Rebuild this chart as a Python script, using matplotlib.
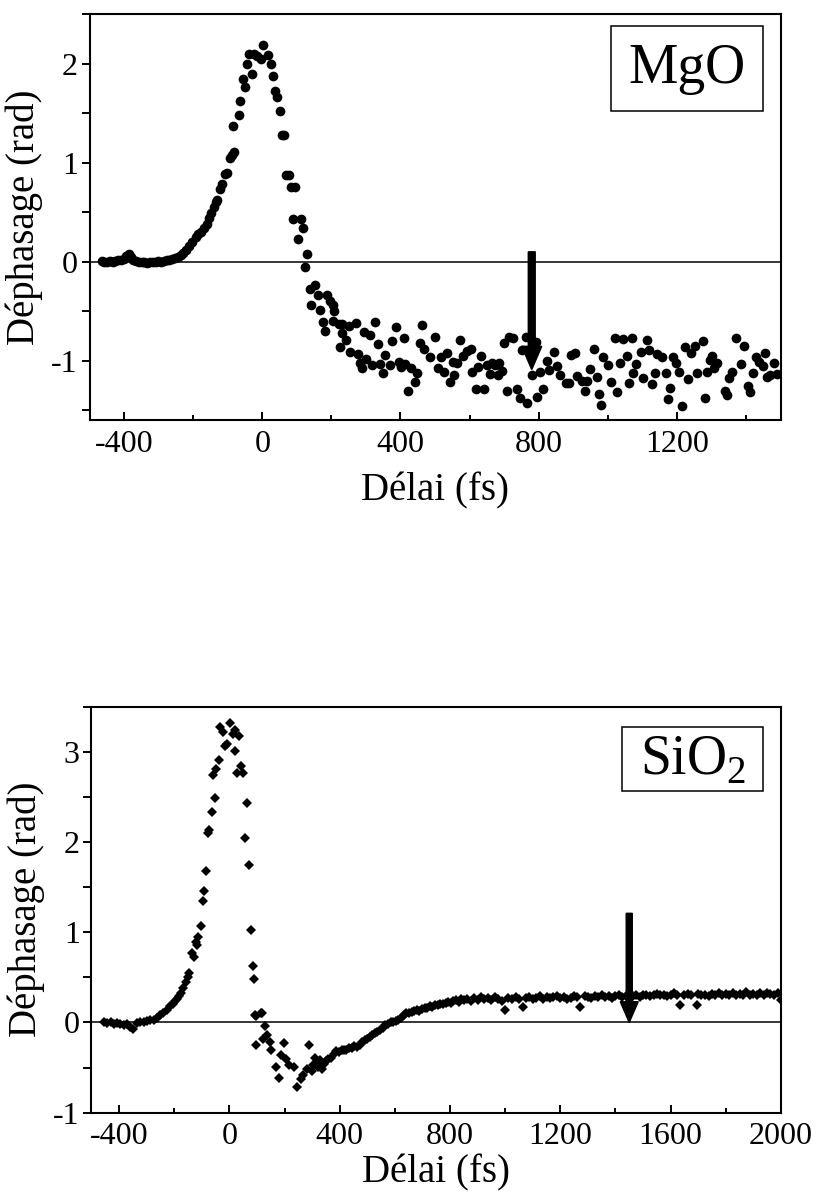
import matplotlib
matplotlib.use('Agg')
import matplotlib.pyplot as plt
from matplotlib.ticker import MultipleLocator

plt.rcParams['font.family'] = ['Liberation Serif', 'DejaVu Serif']
plt.rcParams['mathtext.fontset'] = 'custom'
plt.rcParams['mathtext.rm'] = 'Liberation Serif'
plt.rcParams['axes.unicode_minus'] = False

# ---- MgO: phase shift (rad) vs delay (fs) ----
mgo_base_delay = [-465, -457, -449, -441, -433, -425, -417, -409, -401, -393,
                  -387, -381, -373, -365, -357, -349, -341, -333, -325, -317,
                  -309, -301, -293, -285, -277, -269, -261, -253, -245]
mgo_base_phase = [0.01, 0.0, 0.0, 0.01, 0.0, 0.01, 0.02, 0.02, 0.03, 0.06,
                  0.08, 0.05, 0.02, 0.01, 0.0, 0.0, 0.0, -0.01, 0.0, 0.0,
                  0.0, 0.01, 0.0, 0.01, 0.02, 0.02, 0.03, 0.04, 0.05]

mgo_peak_delay = [-236, -228, -220, -212, -203, -193, -185, -178, -170, -161,
                  -155, -149, -140, -135, -130, -122, -116, -109, -101, -94,
                  -88, -82, -84, -68, -63, -56, -50, -43, -39, -31,
                  -24, -14, -5, 3, 16, 24, 31, 37, 43, 50,
                  56, 64, 70, 77, 84, 96, 88, 103, 111, 117,
                  123, 129, 138, 142, 152, 162, 168, 176, 181, 188,
                  197, 204, 209, 204]
mgo_peak_phase = [0.07, 0.09, 0.12, 0.16, 0.20, 0.25, 0.28, 0.30, 0.34, 0.38,
                  0.44, 0.49, 0.55, 0.60, 0.62, 0.74, 0.79, 0.89, 0.90, 1.05,
                  1.08, 1.11, 1.37, 1.48, 1.62, 1.85, 1.77, 2.00, 2.10, 1.90,
                  2.10, 2.08, 2.05, 2.19, 2.09, 2.00, 1.88, 1.73, 1.66, 1.52,
                  1.28, 1.28, 0.88, 0.88, 0.76, 0.76, 0.43, 0.23, 0.43, 0.34,
                  -0.05, 0.08, -0.28, -0.44, -0.24, -0.34, -0.49, -0.61, -0.70, -0.34,
                  -0.40, -0.44, -0.50, -0.60]

mgo_tail_delay = [221, 224, 231, 231, 241, 250, 255, 270, 276, 282,
                  289, 294, 301, 313, 318, 327, 334, 340, 350, 354,
                  369, 376, 388, 395, 402, 409, 414, 422, 431, 443,
                  448, 462, 456, 469, 486, 499, 508, 516, 525, 535,
                  542, 552, 556, 565, 573, 581, 592, 604, 607, 619,
                  623, 634, 642, 650, 658, 665, 674, 684, 681, 694,
                  700, 708, 713, 727, 737, 747, 752, 764, 767, 782,
                  793, 795, 804, 814, 823, 831, 845, 853, 862, 879,
                  889, 893, 905, 910, 925, 935, 941, 949, 960, 968,
                  976, 981, 986, 1002, 1009, 1021, 1028, 1034, 1045, 1055,
                  1062, 1069, 1072, 1081, 1095, 1101, 1114, 1120, 1127, 1137,
                  1143, 1156, 1168, 1175, 1180, 1188, 1197, 1207, 1214, 1223,
                  1233, 1240, 1252, 1259, 1275, 1281, 1286, 1295, 1303, 1308,
                  1317, 1339, 1346, 1352, 1361, 1371, 1387, 1393, 1406, 1413,
                  1421, 1429, 1438, 1448, 1455, 1461, 1469, 1482, 1491]
mgo_tail_phase = [-0.63, -0.86, -0.63, -0.72, -0.79, -0.65, -0.91, -0.62, -0.93, -1.02,
                  -1.07, -0.71, -0.98, -0.74, -1.04, -0.61, -0.83, -1.03, -1.12, -0.94,
                  -1.04, -0.80, -0.66, -1.01, -1.06, -0.77, -1.03, -1.31, -1.07, -1.22,
                  -1.12, -0.64, -0.82, -0.88, -0.96, -0.76, -1.07, -0.96, -1.11, -0.92,
                  -1.22, -1.01, -1.15, -1.02, -0.79, -0.95, -0.90, -0.88, -1.11, -1.29,
                  -1.06, -0.95, -1.29, -1.04, -1.13, -1.02, -1.04, -1.02, -1.14, -1.10,
                  -0.82, -1.31, -0.76, -0.77, -1.29, -1.38, -0.89, -0.76, -1.43, -1.14,
                  -0.81, -1.37, -1.11, -1.29, -1.00, -1.09, -0.91, -1.05, -1.14, -1.23,
                  -1.23, -0.94, -0.92, -1.16, -1.21, -1.31, -1.21, -1.08, -0.88, -1.17,
                  -1.34, -1.45, -0.96, -1.04, -1.22, -0.77, -1.32, -1.02, -0.78, -0.95,
                  -1.23, -0.77, -1.12, -1.03, -0.91, -1.18, -0.79, -0.89, -1.24, -1.12,
                  -0.93, -0.96, -1.12, -1.39, -1.28, -0.96, -1.02, -1.11, -1.46, -0.86,
                  -1.19, -0.92, -0.85, -1.12, -0.80, -1.38, -1.11, -0.99, -0.95, -1.07,
                  -1.02, -1.31, -1.35, -1.18, -1.11, -0.77, -1.03, -0.85, -1.26, -1.32,
                  -1.12, -0.96, -1.01, -1.05, -0.92, -1.17, -1.15, -1.02, -1.13]

# ---- SiO2: phase shift (rad) vs delay (fs) ----
sio2_base_delay = [-455, -443, -431, -419, -407, -395, -383, -371, -359, -349,
                   -335, -323, -311, -299, -287, -275, -263, -251]
sio2_base_phase = [0.0, -0.01, 0.0, -0.02, -0.01, -0.02, -0.03, -0.02, -0.05, -0.07,
                   -0.01, 0.0, 0.01, 0.02, 0.03, 0.03, 0.05, 0.08]

sio2_peak_delay = [-239, -227, -215, -205, -197, -189, -181, -174, -167, -157,
                   -150, -145, -136, -130, -121, -116, -112, -104, -96, -91,
                   -84, -78, -73, -64, -58, -52, -48, -37, -34, -24,
                   -16, -9, 3, 12, 20, 22, 27, 36, 42, 51,
                   57, 63, 71, 78, 85, 90, 94, 97, 98, 113,
                   117, 123, 129, 136, 147, 151, 170, 179, 189, 198,
                   204, 217, 236, 245, 260, 268, 283, 289, 298, 305,
                   311, 316, 321, 329, 336, 342, 349, 358, 368, 378]
sio2_peak_phase = [0.11, 0.14, 0.18, 0.21, 0.24, 0.26, 0.29, 0.33, 0.38, 0.45,
                   0.50, 0.55, 0.77, 0.73, 0.89, 0.86, 0.95, 1.07, 1.35, 1.46,
                   1.68, 2.10, 2.13, 2.33, 2.74, 2.49, 2.81, 2.91, 3.27, 3.22,
                   3.06, 3.09, 3.32, 3.20, 3.24, 3.01, 2.77, 3.17, 2.84, 2.77,
                   2.05, 2.43, 1.75, 1.02, 0.63, 0.48, 0.085, 0.07, -0.25, 0.11,
                   0.11, -0.18, -0.04, -0.14, -0.22, -0.30, -0.49, -0.61, -0.36, -0.23,
                   -0.40, -0.47, -0.49, -0.72, -0.63, -0.58, -0.52, -0.25, -0.54, -0.47,
                   -0.39, -0.45, -0.49, -0.42, -0.52, -0.46, -0.43, -0.40, -0.39, -0.35]

sio2_rise_delay = [387, 398, 407, 415, 424, 433, 443, 452, 462, 472,
                   481, 491, 500, 510, 519, 528, 537, 547, 556, 566,
                   575, 585, 594, 604, 613, 623, 632, 642, 652, 661,
                   670, 679, 689, 698, 708, 717, 727, 736, 746, 755,
                   765, 774, 784, 793, 803, 812, 822, 831, 841, 850]
sio2_rise_phase = [-0.32, -0.33, -0.31, -0.30, -0.31, -0.28, -0.28, -0.26, -0.27, -0.25,
                   -0.22, -0.19, -0.18, -0.16, -0.14, -0.12, -0.10, -0.08, -0.06, -0.03,
                   -0.02, 0.0, 0.01, 0.02, 0.03, 0.05, 0.08, 0.10, 0.11, 0.12,
                   0.13, 0.14, 0.13, 0.15, 0.16, 0.16, 0.18, 0.17, 0.19, 0.19,
                   0.21, 0.20, 0.22, 0.23, 0.22, 0.24, 0.25, 0.23, 0.26, 0.25]

sio2_plateau_delay = [862, 875, 888, 900, 912, 925, 938, 950, 962, 975,
                      988, 999, 1012, 1025, 1038, 1050, 1066, 1075, 1088, 1100,
                      1112, 1125, 1138, 1150, 1162, 1175, 1188, 1200, 1212, 1225,
                      1238, 1250, 1262, 1270, 1288, 1300, 1312, 1325, 1338, 1350,
                      1362, 1375, 1388, 1400, 1412, 1425, 1438, 1450, 1462, 1475,
                      1488, 1500, 1512, 1525, 1538, 1550, 1562, 1575, 1588, 1600,
                      1612, 1625, 1634, 1650, 1662, 1675, 1694, 1700, 1712, 1725,
                      1738, 1750, 1762, 1775, 1788, 1800, 1812, 1825, 1838, 1850,
                      1862, 1875, 1888, 1900, 1912, 1925, 1938, 1950, 1962, 1975,
                      1988, 2000]
sio2_plateau_phase = [0.26, 0.24, 0.27, 0.25, 0.28, 0.26, 0.27, 0.25, 0.28, 0.26,
                      0.24, 0.14, 0.27, 0.26, 0.28, 0.26, 0.17, 0.27, 0.28, 0.26,
                      0.27, 0.29, 0.26, 0.28, 0.27, 0.28, 0.29, 0.27, 0.28, 0.26,
                      0.27, 0.29, 0.28, 0.17, 0.29, 0.28, 0.27, 0.29, 0.28, 0.30,
                      0.28, 0.29, 0.27, 0.29, 0.30, 0.28, 0.29, 0.27, 0.29, 0.30,
                      0.28, 0.30, 0.31, 0.29, 0.30, 0.32, 0.30, 0.31, 0.29, 0.31,
                      0.33, 0.30, 0.19, 0.31, 0.32, 0.30, 0.19, 0.32, 0.30, 0.31,
                      0.29, 0.32, 0.30, 0.33, 0.31, 0.32, 0.30, 0.33, 0.31, 0.32,
                      0.30, 0.34, 0.31, 0.32, 0.30, 0.33, 0.31, 0.33, 0.32, 0.31,
                      0.33, 0.25]

mgo_delay = mgo_base_delay + mgo_peak_delay + mgo_tail_delay
mgo_phase = mgo_base_phase + mgo_peak_phase + mgo_tail_phase
sio2_delay = sio2_base_delay + sio2_peak_delay + sio2_rise_delay + sio2_plateau_delay
sio2_phase = sio2_base_phase + sio2_peak_phase + sio2_rise_phase + sio2_plateau_phase

# arrows: (delay, start, tip)
mgo_arrow = (780, 0.1, -1.09)
sio2_arrow = (1450, 1.21, 0.0)

fig = plt.figure(figsize=(8.16, 11.98), dpi=100)
ax1 = fig.add_axes([0.1097, 0.6494, 0.8468, 0.3386])
ax2 = fig.add_axes([0.1121, 0.0712, 0.8449, 0.3389])


def style_axis(ax, xlim, ylim, xmajor, ymajor, xlabelpad):
    ax.set_xlim(*xlim)
    ax.set_ylim(*ylim)
    ax.xaxis.set_major_locator(MultipleLocator(xmajor))
    ax.xaxis.set_minor_locator(MultipleLocator(xmajor / 2))
    ax.yaxis.set_major_locator(MultipleLocator(ymajor))
    ax.yaxis.set_minor_locator(MultipleLocator(ymajor / 2))
    ax.tick_params(axis='x', which='major', direction='in', length=6, width=1.4,
                   labelsize=23, pad=7)
    ax.tick_params(axis='x', which='minor', direction='in', length=3.5, width=1.4)
    ax.tick_params(axis='y', which='both', direction='out', length=5.5, width=1.4,
                   labelsize=23, pad=3)
    for s in ax.spines.values():
        s.set_linewidth(1.5)
    ax.axhline(0, color='black', lw=1.1, zorder=1)
    ax.set_xlabel('Délai (fs)', fontsize=28, labelpad=xlabelpad)
    ax.set_ylabel('Déphasage (rad)', fontsize=28, labelpad=6)


# top panel: MgO
ax1.plot(mgo_delay, mgo_phase, 'o', color='black', ms=7, mew=0, zorder=3)
style_axis(ax1, (-500, 1500), (-1.6, 2.5), 400, 1, 10)
ax1.arrow(mgo_arrow[0], mgo_arrow[1], 0, mgo_arrow[2] - mgo_arrow[1], width=20,
          head_width=58, head_length=0.235, length_includes_head=True,
          color='black', zorder=4)
ax1.add_patch(plt.Rectangle((0.754, 0.762), 0.220, 0.209, transform=ax1.transAxes,
                            fill=False, lw=1.1, color='black'))
ax1.text(0.864, 0.866, 'MgO', transform=ax1.transAxes, fontsize=40,
         ha='center', va='center')

# bottom panel: SiO2
ax2.plot(sio2_delay, sio2_phase, 'D', color='black', ms=5.6, mew=0, zorder=3)
style_axis(ax2, (-500, 2000), (-1, 3.5), 400, 1, 2)
ax2.arrow(sio2_arrow[0], sio2_arrow[1], 0, sio2_arrow[2] - sio2_arrow[1], width=22,
          head_width=65, head_length=0.23, length_includes_head=True,
          color='black', zorder=4)
ax2.add_patch(plt.Rectangle((0.770, 0.792), 0.204, 0.157, transform=ax2.transAxes,
                            fill=False, lw=1.1, color='black'))
ax2.text(0.872, 0.868, r'SiO$_\mathregular{2}$', transform=ax2.transAxes, fontsize=40,
         ha='center', va='center')

fig.savefig('out.png', dpi=100)
